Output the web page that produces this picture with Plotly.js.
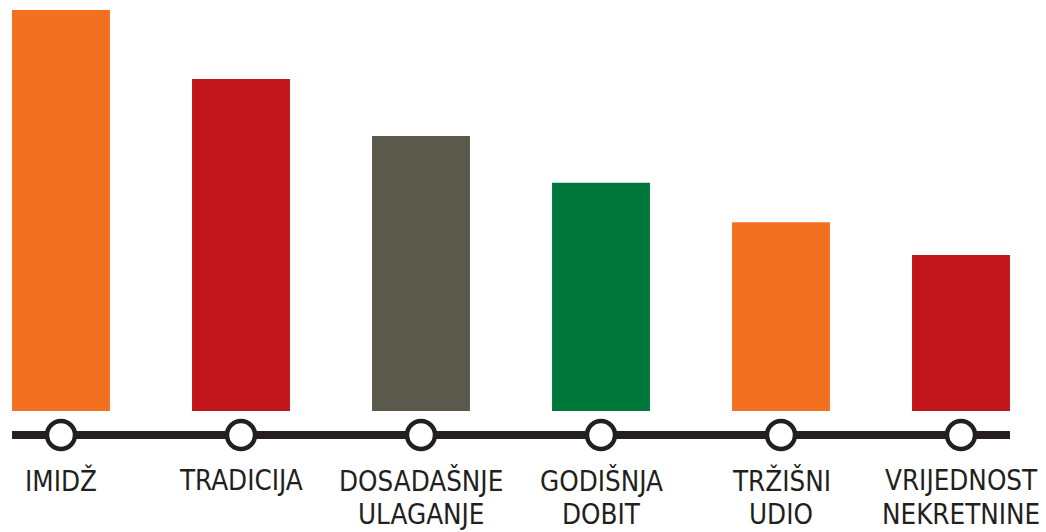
<!DOCTYPE html>
<html>
<head>
<meta charset="utf-8">
<script src="https://cdn.plot.ly/plotly-3.0.1.min.js"></script>
<style>html,body{margin:0;padding:0;background:#fff;}#chart{width:1046px;height:532px;}</style>
</head>
<body>
<div id="chart"></div>
<script>
const categories = ["IMIDŽ", "TRADICIJA", "DOSADAŠNJE<br>ULAGANJE", "GODIŠNJA<br>DOBIT", "TRŽIŠNI<br>UDIO", "VRIJEDNOST<br>NEKRETNINE"];
const values = [100, 82.8, 68.6, 56.9, 47.1, 38.9];
const barColors = ["#F37021", "#C1141B", "#5A594B", "#00773A", "#F37021", "#C1141B"];
const dark = "#231F20";

const idx = categories.map((_, i) => i);
const baseY = -6;
const pxPerUnit = 4.01;
const lineYs = [-(480 - 411) / pxPerUnit, -(513.5 - 411) / pxPerUnit];

const bars = {
  type: "bar", x: idx, y: values, width: 0.544,
  marker: {color: barColors, line: {width: 0}},
  hoverinfo: "skip"
};
const dots = {
  type: "scatter", mode: "markers", x: idx, y: idx.map(() => baseY),
  marker: {symbol: "circle", size: 28, color: "#ffffff", line: {color: dark, width: 4.5}},
  hoverinfo: "skip", cliponaxis: false
};

const annotations = [];
categories.forEach((c, i) => {
  c.split("<br>").forEach((t, j) => {
    annotations.push({
      x: i, y: lineYs[j], xref: "x", yref: "y", text: t, showarrow: false,
      xanchor: "center", yanchor: "middle",
      font: {family: "DejaVu Sans Condensed, DejaVu Sans", size: 27.5, color: dark}
    });
  });
});

const layout = {
  width: 1046, height: 532,
  margin: {l: 0, r: 0, t: 0, b: 0},
  paper_bgcolor: "#ffffff", plot_bgcolor: "#ffffff",
  showlegend: false,
  xaxis: {
    range: [-61/180, 985/180], showgrid: false, zeroline: false, showline: false,
    showticklabels: false, ticks: ""
  },
  yaxis: {
    range: [-(532 - 411) / pxPerUnit, 100 + 10 / pxPerUnit], showgrid: false, zeroline: false, showline: false,
    showticklabels: false, ticks: ""
  },
  annotations: annotations,
  shapes: [{
    type: "line", xref: "x", yref: "y", x0: -0.272, x1: 5.272, y0: baseY, y1: baseY,
    line: {color: dark, width: 8}, layer: "below"
  }]
};

Plotly.newPlot("chart", [bars, dots], layout, {staticPlot: true, displayModeBar: false});
</script>
</body>
</html>
